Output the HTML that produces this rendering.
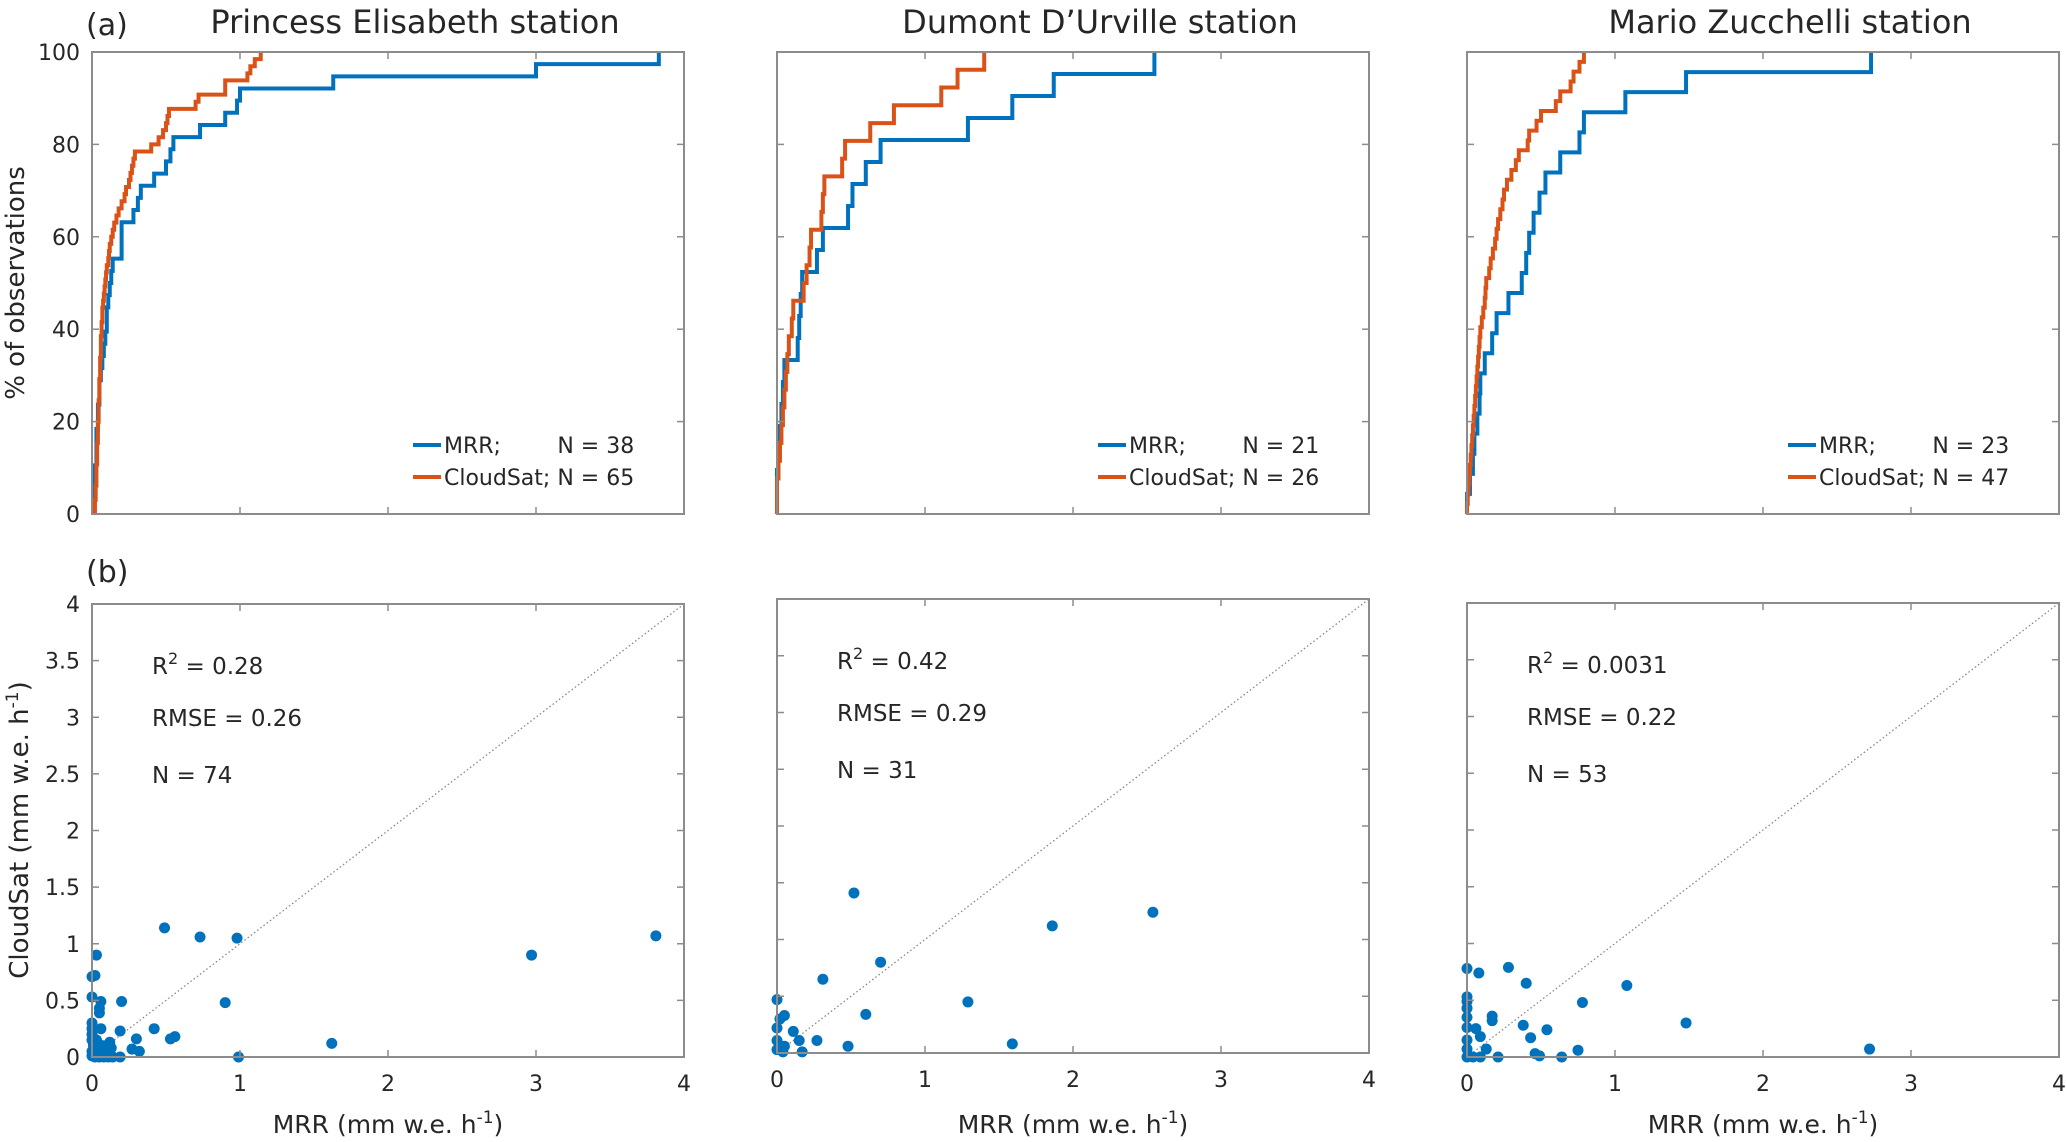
<!DOCTYPE html>
<html><head><meta charset="utf-8">
<style>
html,body{margin:0;padding:0;background:#fff;}
svg{display:block;font-family:"DejaVu Sans","Liberation Sans",sans-serif;}
</style></head>
<body>
<svg id="fig" width="2066" height="1142" viewBox="0 0 2066 1142" xmlns="http://www.w3.org/2000/svg"></svg>
<script>
// ---------- data ----------
const stationNames = ["Princess Elisabeth station","Dumont D\u2019Urville station","Mario Zucchelli station"];
const mrrCdf1 = [0.01,0.01,0.02,0.02,0.03,0.03,0.03,0.04,0.04,0.05,0.05,0.06,0.07,0.08,0.09,0.10,0.10,0.11,0.12,0.13,0.14,0.20,0.20,0.20,0.28,0.31,0.33,0.42,0.50,0.53,0.55,0.73,0.90,0.98,1.0,1.63,3.0,3.83];
const csCdf1 = [0.02,0.02,0.025,0.025,0.03,0.03,0.03,0.035,0.035,0.035,0.04,0.04,0.04,0.045,0.045,0.045,0.05,0.05,0.05,0.055,0.055,0.055,0.06,0.06,0.06,0.065,0.065,0.07,0.07,0.075,0.08,0.085,0.09,0.095,0.1,0.11,0.115,0.12,0.13,0.14,0.15,0.165,0.18,0.2,0.22,0.23,0.25,0.26,0.27,0.28,0.29,0.40,0.45,0.48,0.50,0.51,0.52,0.70,0.72,0.90,0.90,1.05,1.07,1.10,1.14];
const mrrCdf2 = [0,0,0.01,0.02,0.03,0.04,0.05,0.14,0.15,0.16,0.17,0.27,0.31,0.48,0.51,0.6,0.7,1.29,1.59,1.87,2.55];
const csCdf2 = [0,0,0.01,0.02,0.03,0.04,0.05,0.06,0.07,0.08,0.1,0.11,0.18,0.2,0.22,0.23,0.3,0.31,0.32,0.44,0.46,0.63,0.79,1.11,1.22,1.4];
const mrrCdf3 = [0,0.02,0.04,0.05,0.07,0.085,0.09,0.12,0.17,0.2,0.28,0.37,0.4,0.42,0.45,0.49,0.53,0.63,0.76,0.79,1.07,1.48,2.73];
const csCdf3 = [0,0.005,0.01,0.015,0.02,0.025,0.03,0.035,0.04,0.045,0.05,0.055,0.06,0.065,0.07,0.075,0.08,0.085,0.09,0.1,0.11,0.12,0.125,0.13,0.15,0.16,0.175,0.19,0.2,0.21,0.225,0.24,0.25,0.27,0.3,0.33,0.35,0.41,0.42,0.47,0.5,0.6,0.63,0.7,0.72,0.76,0.79];
const legendN = [[38,65],[21,26],[23,47]];

const scatX1 = [0.49,0.73,0.98,2.97,3.81,0.9,0.2,1.62,0.99,0.42,0.53,0.56,0.19,0.3,0.27,0.32,0.19,0.12,0.03,0.02,0.0,0.0,0.06,0.05,0.05,0.06,0.0,0.0,0.0,0.01,0.02,0.03,0.05,0.08,0.1,0.12,0.04,0.07,0.09,0.11,0.14,0.02,0.0,0.01,0.06,0.13,0.03,0.0,0.0];
const scatY1 = [1.14,1.06,1.05,0.9,1.07,0.48,0.49,0.12,0.0,0.25,0.16,0.18,0.23,0.16,0.07,0.05,0.0,0.13,0.9,0.72,0.71,0.53,0.49,0.43,0.39,0.25,0.3,0.2,0.15,0.1,0.05,0.02,0.0,0.0,0.02,0.05,0.08,0.1,0.06,0.0,0.0,0.0,0.05,0.12,0.03,0.08,0.15,0.25,0.01];
const scatX2 = [0.52,1.86,2.54,0.7,0.31,1.29,0.6,1.59,0.48,0.27,0.0,0.02,0.05,0.0,0.11,0.15,0.0,0.05,0.0,0.04,0.17];
const scatY2 = [1.41,1.12,1.24,0.8,0.65,0.45,0.34,0.08,0.06,0.11,0.47,0.3,0.33,0.22,0.19,0.11,0.11,0.06,0.03,0.01,0.01];
const scatX3 = [0.28,0,0.08,0.4,1.08,0.78,1.48,2.72,0,0,0,0,0.17,0.17,0,0.06,0.38,0.54,0.09,0.43,0,0,0.13,0.75,0.46,0.49,0.21,0.64,0.09,0.04,0];
const scatY3 = [0.79,0.78,0.74,0.65,0.63,0.48,0.3,0.07,0.53,0.49,0.43,0.35,0.36,0.32,0.26,0.25,0.28,0.24,0.18,0.17,0.15,0.07,0.07,0.06,0.03,0.01,0,0,0,0,0];
const statR2 = ["0.28","0.42","0.0031"];
const statRMSE = ["0.26","0.29","0.22"];
const statN = ["74","31","53"];
const cdfYTicks = [0,20,40,60,80,100];
const scatYTicks = [0,0.5,1,1.5,2,2.5,3,3.5,4];
const scatYTickLabels = ["0","0.5","1","1.5","2","2.5","3","3.5","4"];
const xTicks = [0,1,2,3,4];

// ---------- layout ----------
const NS = "http://www.w3.org/2000/svg";
const svg = document.getElementById('fig');
const BLUE = "#0072BD", ORANGE = "#D95319", AX = "#8c8c8c", TXT = "#262626";
const topBoxes = [{l:92,r:684,t:52,b:514},{l:777,r:1369,t:52,b:514},{l:1467,r:2059,t:52,b:514}];
const botBoxes = [{l:92,r:684,t:604,b:1057},{l:777,r:1369,t:599,b:1053},{l:1467,r:2059,t:603,b:1057}];
const cdfSets = [[mrrCdf1,csCdf1],[mrrCdf2,csCdf2],[mrrCdf3,csCdf3]];
const scatSets = [[scatX1,scatY1],[scatX2,scatY2],[scatX3,scatY3]];

function mk(tag, attrs, parent){
  const e = document.createElementNS(NS, tag);
  for (const k in attrs) e.setAttribute(k, attrs[k]);
  (parent||svg).appendChild(e);
  return e;
}
function txt(s, x, y, size, anchor, parent){
  const t = mk('text',{x:x,y:y,'font-size':size,'text-anchor':anchor||'start',fill:TXT},parent);
  t.textContent = s;
  return t;
}

function frame(g, b, xScale, yScale, yTicks){
  xTicks.forEach(v=>{
    const x = xScale(v);
    mk('line',{x1:x,x2:x,y1:b.b,y2:b.b-7,stroke:AX,'stroke-width':1.5},g);
    mk('line',{x1:x,x2:x,y1:b.t,y2:b.t+7,stroke:AX,'stroke-width':1.5},g);
  });
  yTicks.forEach(v=>{
    const y = yScale(v);
    mk('line',{x1:b.l,x2:b.l+7,y1:y,y2:y,stroke:AX,'stroke-width':1.5},g);
    mk('line',{x1:b.r,x2:b.r-7,y1:y,y2:y,stroke:AX,'stroke-width':1.5},g);
  });
  mk('rect',{x:b.l,y:b.t,width:b.r-b.l,height:b.b-b.t,fill:'none',stroke:AX,'stroke-width':2},g);
}

// ---------- top row: CDFs ----------
topBoxes.forEach((b,p)=>{
  const g = mk('g',{});
  
  
  const xS = v => b.l + v/4*(b.r-b.l);
  const yS = v => b.b - v/100*(b.b-b.t);
  const title = txt(stationNames[p], (b.l+b.r)/2 + 27, 33, 32, 'middle', g);
  
  
  if (p===0){
    cdfYTicks.forEach(v=>{
      const t = txt(String(v), 80, yS(v)+8, 22, 'end', g);
      
      
    });
  }
  const colors=[BLUE,ORANGE];
  cdfSets[p].forEach((vals,si)=>{
    const N = vals.length;
    let d = 'M'+xS(vals[0])+' '+yS(0);
    for (let i=0;i<N;i++){
      d += ' V'+yS((i+1)/N*100);
      if (i<N-1) d += ' H'+xS(vals[i+1]);
    }
    const path = mk('path',{d:d,fill:'none',stroke:colors[si],'stroke-width':4,'stroke-linejoin':'miter'},g);
    
    
  });
  frame(g,b,xS,yS,cdfYTicks);
  // legend
  const lg = mk('g',{},g);
  
  
  const lx = b.r - 271;
  mk('line',{x1:lx,x2:lx+28,y1:445,y2:445,stroke:BLUE,'stroke-width':4},lg);
  mk('line',{x1:lx,x2:lx+28,y1:477,y2:477,stroke:ORANGE,'stroke-width':4},lg);
  const e1 = txt('MRR;', lx+31, 453, 22, 'start', lg);
  
  
  const e2 = txt('CloudSat; N = '+legendN[p][1], lx+31, 485, 22, 'start', lg);
  
  
  let off = 115;
  try { off = e2.getSubStringLength(0, 10); } catch(err) {}
  const n1 = txt('N = '+legendN[p][0], lx+31+off, 453, 22, 'start', lg);
  
  
});
const la = txt('(a)', 86, 35, 30, 'start');


const yl1 = txt('% of observations', 0, 0, 26, 'middle');
yl1.setAttribute('transform','translate(24,283) rotate(-90)');



// ---------- bottom row: scatter ----------
botBoxes.forEach((b,p)=>{
  const g = mk('g',{});
  
  
  const xS = v => b.l + v/4*(b.r-b.l);
  const yS = v => b.b - v/4*(b.b-b.t);
  if (p===0){
    scatYTicks.forEach((v,i)=>{
      const t = txt(scatYTickLabels[i], 80, yS(v)+8, 22, 'end', g);
      
      
    });
  }
  xTicks.forEach(v=>{
    const t = txt(String(v), xS(v), b.b+34, 22, 'middle', g);
    
    
  });
  const diag = mk('line',{x1:xS(0),y1:yS(0),x2:xS(4),y2:yS(4),stroke:'#888','stroke-width':1.3,'stroke-dasharray':'1.5 2.5'},g);
  
  
  const xs = scatSets[p][0], ys = scatSets[p][1];
  xs.forEach((xv,i)=>{
    const c = mk('circle',{cx:xS(xv),cy:yS(ys[i]),r:5.5,fill:BLUE},g);
    
    
  });
  frame(g,b,xS,yS,scatYTicks);
  const sx = b.l + 60;
  const r2 = mk('text',{x:sx,y:b.t+70,'font-size':23,fill:TXT},g);
  r2.innerHTML = 'R<tspan dy="-10" font-size="16">2</tspan><tspan dy="10"> = '+statR2[p]+'</tspan>';
  
  
  const rm = txt('RMSE = '+statRMSE[p], sx, b.t+122, 23, 'start', g);
  
  
  const nn = txt('N = '+statN[p], sx, b.t+179, 23, 'start', g);
  
  
  const xl = mk('text',{x:(b.l+b.r)/2,y:1133,'font-size':25,'text-anchor':'middle',fill:TXT},g);
  xl.innerHTML = 'MRR (mm w.e. h<tspan dy="-10" font-size="17">-1</tspan><tspan dy="10">)</tspan>';
  
  
});
const lb = txt('(b)', 86, 582, 30, 'start');


const yl2 = mk('text',{'font-size':26,'text-anchor':'middle',fill:TXT,transform:'translate(28,830) rotate(-90)'});
yl2.innerHTML = 'CloudSat (mm w.e. h<tspan dy="-10" font-size="17">-1</tspan><tspan dy="10">)</tspan>';


</script>
</body></html>
